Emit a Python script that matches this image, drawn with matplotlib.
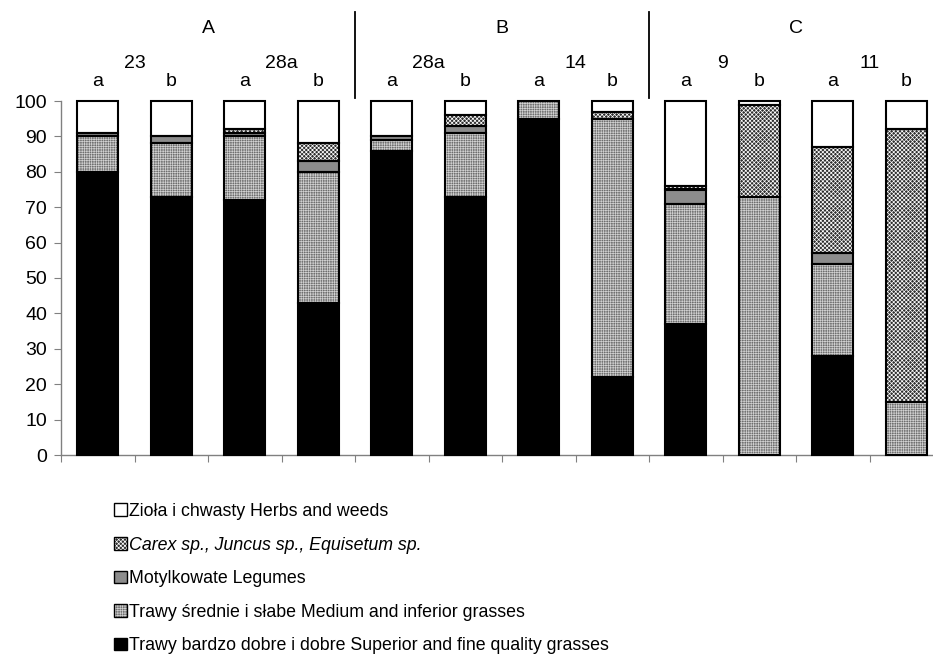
import matplotlib
matplotlib.use("Agg")
import matplotlib.pyplot as plt
from matplotlib.patches import Patch
from matplotlib.legend_handler import HandlerTuple
from matplotlib.transforms import blended_transform_factory
import numpy as np

plt.rcParams['font.family'] = ['Liberation Sans', 'DejaVu Sans']
plt.rcParams['hatch.linewidth'] = 0.5

# Groups, sites and variants along the x axis
groups = ["A", "B", "C"]
sites = ["23", "28a", "28a", "14", "9", "11"]
variants = ["a", "b"] * 6

# Share (%) of each botanical group in the sward, bottom to top
superior = [80, 73, 72, 43, 86, 73, 95, 22, 37, 0, 28, 0]
medium = [10, 15, 18, 37, 3, 18, 5, 73, 34, 73, 26, 15]
legumes = [1, 2, 1, 3, 1, 2, 0, 0, 4, 0, 3, 0]
carex = [0, 0, 1, 5, 0, 3, 0, 2, 1, 26, 30, 77]
herbs = [9, 10, 8, 12, 10, 4, 0, 3, 24, 1, 13, 8]

labels = [
    "Trawy bardzo dobre i dobre Superior and fine quality grasses",
    "Trawy średnie i słabe Medium and inferior grasses",
    "Motylkowate Legumes",
    "Carex sp., Juncus sp., Equisetum sp.",
    "Zioła i chwasty Herbs and weeds",
]

# fill colour, hatch, hatch colour for each layer
styles = [
    ("#000000", None, "#000000"),
    ("#6e6e6e", "+++++++", "#d0d0d0"),
    ("#8c8c8c", None, "#8c8c8c"),
    ("#2e2e2e", "xxxxxxxx", "#ffffff"),
    ("#ffffff", None, "#ffffff"),
]

W, H = 933, 657
fig = plt.figure(figsize=(W / 100, H / 100), dpi=100)
left, right, top, bottom = 61, 943, 101, 455
ax = fig.add_axes([left / W, 1 - bottom / H, (right - left) / W, (bottom - top) / H])

x = np.arange(len(variants))
width = 0.56
layers = [superior, medium, legumes, carex, herbs]
base = np.zeros(len(x))
handles = []
for vals, (fc, hatch, hc), lab in zip(layers, styles, labels):
    vals = np.array(vals, dtype=float)
    mask = vals > 0
    ax.bar(x[mask], vals[mask], width, bottom=base[mask], color=fc,
           hatch=hatch, edgecolor=hc, linewidth=0, zorder=2)
    ax.bar(x[mask], vals[mask], width, bottom=base[mask], fill=False,
           edgecolor="black", linewidth=1.5, zorder=3, clip_on=False)
    base += vals
    h_fill = Patch(facecolor=fc, hatch=hatch, edgecolor=hc, linewidth=0)
    h_edge = Patch(fill=False, edgecolor="black", linewidth=1.0)
    handles.append((h_fill, h_edge))

ax.set_xlim(-0.5, len(x) - 0.5)
ax.set_ylim(0, 100)
ax.set_yticks(np.arange(0, 101, 10))
ax.set_xticks(np.arange(-0.5, len(x), 1.0))
ax.set_xticklabels([])
ax.tick_params(axis="y", labelsize=14, length=5, pad=5, color="#808080", direction="out")
ax.tick_params(axis="x", length=5, color="#808080", direction="out")
for s in ("top", "right"):
    ax.spines[s].set_visible(False)
for s in ("left", "bottom"):
    ax.spines[s].set_color("#808080")
    ax.spines[s].set_linewidth(1.0)

# header: groups, sites and variants above the bars
tr = blended_transform_factory(ax.transData, fig.transFigure)
def fy(py):
    return 1 - py / H

for i, g in enumerate(groups):
    ax.text(4 * i + 1.5, fy(33), g, transform=tr, ha="center", va="baseline", fontsize=14)
for i, s in enumerate(sites):
    ax.text(2 * i + 0.5, fy(68), s, transform=tr, ha="center", va="baseline", fontsize=14)
for i, v in enumerate(variants):
    ax.text(i, fy(86), v, transform=tr, ha="center", va="baseline", fontsize=14)
for xs in (3.5, 7.5):
    ax.plot([xs, xs], [fy(12), fy(98)], transform=tr, color="black", lw=1.3, clip_on=False)

leg = fig.legend(handles[::-1], labels[::-1], loc="upper left",
                 bbox_to_anchor=(114 / W, fy(503)), frameon=False, fontsize=12.8,
                 handler_map={tuple: HandlerTuple(ndivide=1, pad=0)},
                 handlelength=0.72, handleheight=0.72, handletextpad=0.15,
                 labelspacing=0.93, borderpad=0, borderaxespad=0)
leg.get_texts()[1].set_fontstyle("italic")

fig.savefig("out.png", dpi=100)
